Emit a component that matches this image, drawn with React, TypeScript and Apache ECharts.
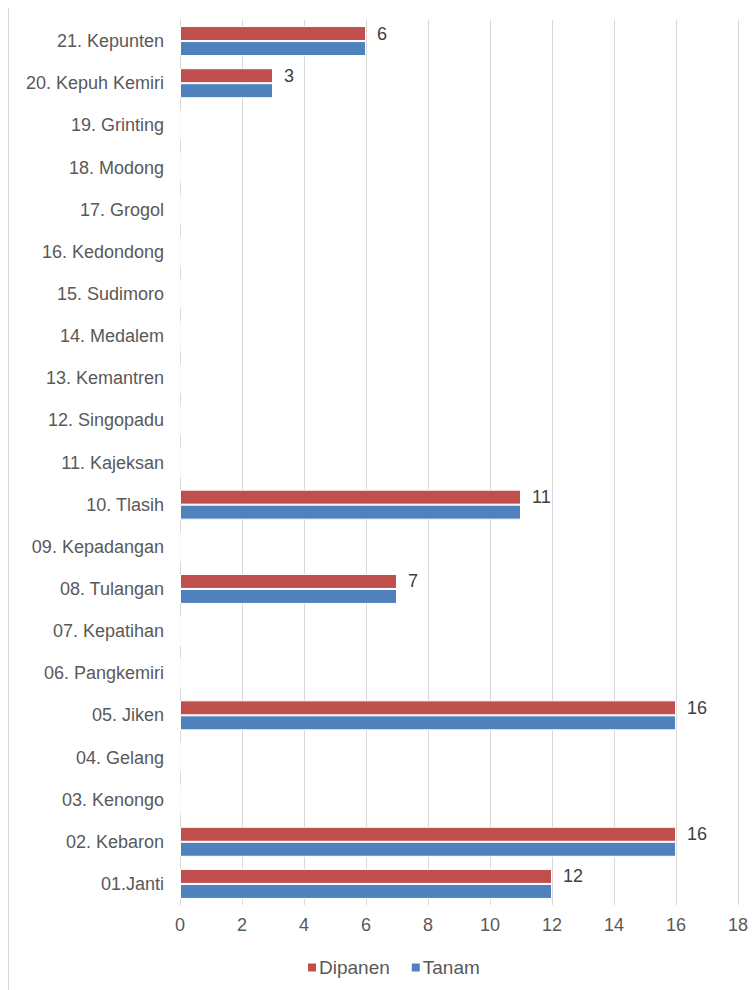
import React, { useEffect, useRef } from "react";
import * as echarts from "echarts";

const categories = [
  "01.Janti", "02. Kebaron", "03. Kenongo", "04. Gelang", "05. Jiken",
  "06. Pangkemiri", "07. Kepatihan", "08. Tulangan", "09. Kepadangan", "10. Tlasih",
  "11. Kajeksan", "12. Singopadu", "13. Kemantren", "14. Medalem", "15. Sudimoro",
  "16. Kedondong", "17. Grogol", "18. Modong", "19. Grinting", "20. Kepuh Kemiri",
  "21. Kepunten",
];
const dipanen = [12, 16, 0, 0, 16, 0, 0, 7, 0, 11, 0, 0, 0, 0, 0, 0, 0, 0, 0, 3, 6];
const tanam = [12, 16, 0, 0, 16, 0, 0, 7, 0, 11, 0, 0, 0, 0, 0, 0, 0, 0, 0, 3, 6];
const xTicks = { min: 0, max: 18, interval: 2 };

export default function App() {
  const ref = useRef<HTMLDivElement>(null);
  useEffect(() => {
    document.body.style.margin = "0";
    document.body.style.overflow = "hidden";
    const chart = echarts.init(ref.current!, undefined, { renderer: "svg" });
    const font = "'Liberation Sans', Arial, sans-serif";
    chart.setOption({
      animation: false,
      textStyle: { fontFamily: font },
      grid: { left: 180, right: 17, top: 20, bottom: 85, containLabel: false },
      legend: {
        data: ["Dipanen", "Tanam"],
        top: 953,
        left: 301,
        itemWidth: 10,
        itemHeight: 10,
        itemGap: 20,
        icon: "rect",
        textStyle: { fontSize: 19, color: "#595959", fontFamily: font, padding: [0, 0, 0, -3] },
      },
      xAxis: {
        type: "value",
        min: xTicks.min,
        max: xTicks.max,
        interval: xTicks.interval,
        axisLine: { show: false },
        axisTick: { show: false },
        splitLine: { show: true, lineStyle: { color: "#d9d9d9", width: 1 } },
        axisLabel: { fontSize: 18, color: "#595959", margin: 11, fontFamily: font },
      },
      yAxis: {
        type: "category",
        data: categories,
        axisLine: { show: true, lineStyle: { color: "#d9d9d9" } },
        axisTick: { show: false },
        axisLabel: { fontSize: 18, color: "#595959", margin: 16, fontFamily: font },
      },
      series: [
        {
          name: "Dipanen",
          type: "bar",
          data: dipanen,
          barWidth: 15,
          barGap: "0%",
          itemStyle: { color: "#C0504D", borderColor: "#ffffff", borderWidth: 1 },
          label: {
            show: true,
            position: "right",
            distance: 11,
            fontSize: 18,
            color: "#404040",
            fontFamily: font,
            formatter: (p: any) => (p.value ? String(p.value) : ""),
          },
        },
        {
          name: "Tanam",
          type: "bar",
          data: tanam,
          barWidth: 15,
          barGap: "0%",
          itemStyle: { color: "#4F81BD", borderColor: "#ffffff", borderWidth: 1 },
        },
      ],
      graphic: [
        {
          type: "line",
          shape: { x1: 8.5, y1: 8, x2: 8.5, y2: 990 },
          style: { stroke: "#d9d9d9", lineWidth: 1 },
        },
      ],
    });
    return () => chart.dispose();
  }, []);
  return <div ref={ref} style={{ width: 755, height: 990 }} />;
}
